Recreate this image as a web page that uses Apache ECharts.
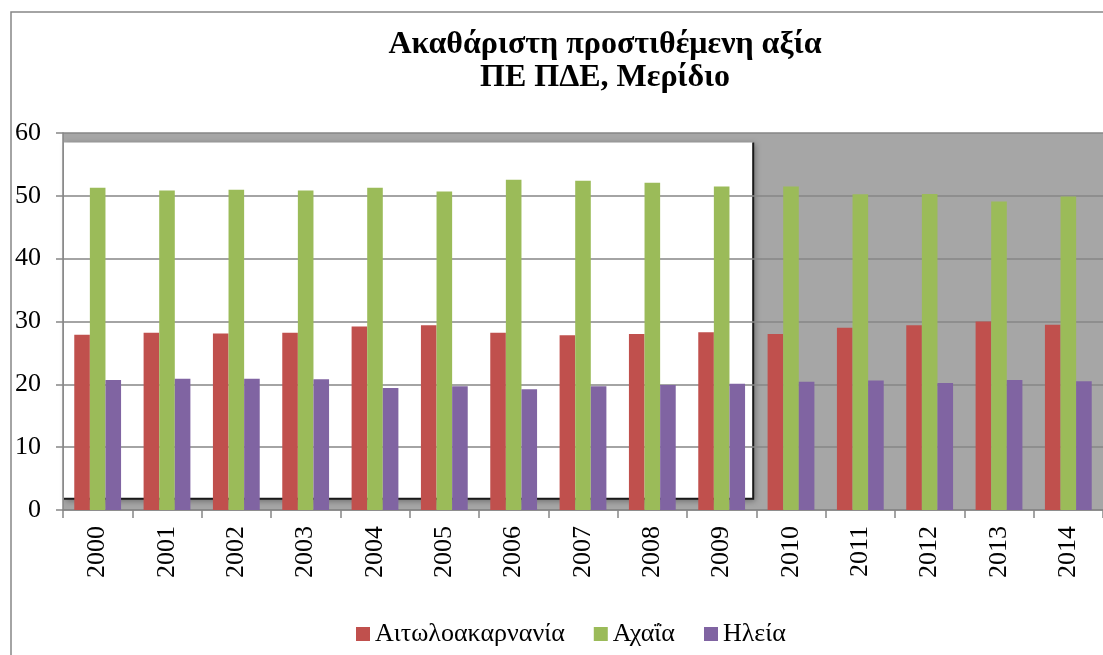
<!DOCTYPE html>
<html>
<head>
<meta charset="utf-8">
<script src="https://cdn.jsdelivr.net/npm/echarts@6/dist/echarts.min.js"></script>
<style>
  html, body { margin: 0; padding: 0; background: #fff; }
  #main { width: 1103px; height: 655px; }
</style>
</head>
<body>
<div id="main"></div>
<script>
var years = ['2000','2001','2002','2003','2004','2005','2006','2007','2008','2009','2010','2011','2012','2013','2014']
var aitoloakarnania = [27.9, 28.2, 28.1, 28.2, 29.2, 29.4, 28.2, 27.8, 28.0, 28.3, 28.0, 29.0, 29.4, 30.0, 29.5]
var achaia = [51.3, 50.85, 50.95, 50.85, 51.3, 50.7, 52.55, 52.4, 52.1, 51.5, 51.5, 50.25, 50.3, 49.1, 49.9]
var ileia = [20.7, 20.9, 20.9, 20.8, 19.4, 19.7, 19.2, 19.7, 19.9, 20.1, 20.4, 20.6, 20.2, 20.7, 20.5]
var names = ['Αιτωλοακαρνανία', 'Αχαΐα', 'Ηλεία']

var serif = 'Liberation Serif'
var gridLeft = 63, gridTop = 133, gridRight = -10, gridBottom = 145

var chart = echarts.init(document.getElementById('main'))

function bar(name, data, color) {
  return {
    name: name, type: 'bar', data: data,
    barWidth: 15.6, barGap: '0%',
    itemStyle: { color: color },
    z: 3
  }
}

chart.setOption({
  animation: false,
  title: {
    text: 'Ακαθάριστη προστιθέμενη αξία\nΠΕ ΠΔΕ, Μερίδιο',
    left: 600, top: 23, textAlign: 'center',
    textStyle: { fontFamily: serif, fontWeight: 'bold', fontSize: 32, lineHeight: 33, color: '#000' }
  },
  legend: {
    top: 616, left: 351,
    itemWidth: 14, itemHeight: 14, itemGap: 29,
    icon: 'rect',
    textStyle: { fontFamily: serif, fontSize: 26, color: '#000' },
    data: names
  },
  grid: { left: gridLeft, top: gridTop, right: gridRight, bottom: gridBottom },
  xAxis: {
    type: 'category', data: years, z: 2,
    axisLine: { lineStyle: { color: '#868686', width: 1.5 } },
    axisTick: { show: true, length: 8, lineStyle: { color: '#868686', width: 1.5 } },
    axisLabel: { interval: 0, rotate: 90, margin: 16, fontFamily: serif, fontSize: 26, color: '#000' }
  },
  yAxis: {
    type: 'value', min: 0, max: 60, interval: 10, z: 2,
    axisLine: { show: true, lineStyle: { color: '#868686', width: 1.5 } },
    axisTick: { show: true, length: 7, lineStyle: { color: '#868686', width: 1.5 } },
    splitLine: { lineStyle: { color: '#868686', width: 1.5 } },
    axisLabel: { margin: 22, fontFamily: serif, fontSize: 26, color: '#000' }
  },
  series: [
    bar(names[0], aitoloakarnania, '#C0504D'),
    bar(names[1], achaia, '#9BBB59'),
    bar(names[2], ileia, '#8064A2')
  ]
})

// plot-area decoration: gray background with a white inset panel over 2000-2009
var catW = (1103 - gridLeft - gridRight) / years.length
var yTop = chart.convertToPixel({ yAxisIndex: 0 }, 58.5)
var yBot = chart.convertToPixel({ yAxisIndex: 0 }, 1.8)
var yZero = chart.convertToPixel({ yAxisIndex: 0 }, 0)
var y60 = chart.convertToPixel({ yAxisIndex: 0 }, 60)
var xSplit = gridLeft + catW * 9.86

chart.setOption({
  graphic: [
    { type: 'rect', z: -2, silent: true,
      shape: { x: 11, y: 12, width: 1200, height: 700 },
      style: { fill: '#fff', stroke: '#868686', lineWidth: 1.5 } },
    { type: 'rect', z: -1, silent: true,
      shape: { x: gridLeft, y: y60, width: 1103 - gridLeft, height: yZero - y60 },
      style: { fill: '#A6A6A6' } },
    { type: 'rect', z: 0, silent: true,
      shape: { x: gridLeft + 1, y: yTop, width: xSplit - gridLeft - 1, height: yBot - yTop },
      style: { fill: '#fff', shadowBlur: 6, shadowColor: 'rgba(0,0,0,0.35)', shadowOffsetX: 2, shadowOffsetY: 2 } },
    { type: 'polyline', z: 1, silent: true,
      shape: { points: [[gridLeft + 1, yBot], [xSplit, yBot], [xSplit, yTop]] },
      style: { stroke: '#1a1a1a', lineWidth: 2, fill: null } }
  ]
})
</script>
</body>
</html>
